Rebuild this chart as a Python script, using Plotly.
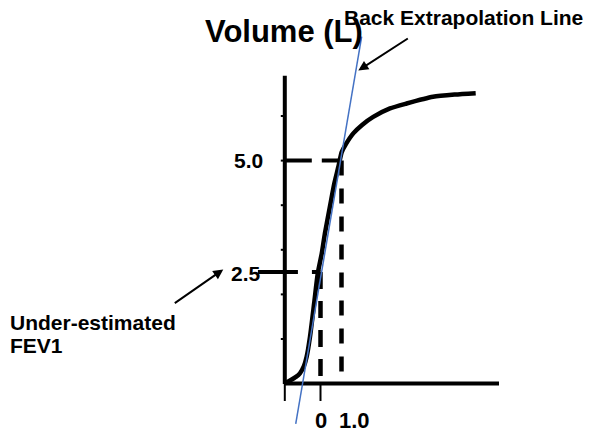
import plotly.graph_objects as go

# ---- data (time in s, volume in L) ----
time_s = [-1.69, -1.45, -1.17, -0.98, -0.79, -0.66, -0.50, -0.30, -0.13, 0.06,
          0.21, 0.45, 0.66, 0.85, 1.01, 1.21, 1.56, 1.98, 2.51, 3.31,
          4.10, 5.36, 6.40, 7.39]
volume_L = [0.01, 0.07, 0.15, 0.23, 0.39, 0.60, 1.05, 1.81, 2.47, 2.92,
            3.37, 3.97, 4.49, 4.86, 5.19, 5.37, 5.61, 5.80, 5.98, 6.17,
            6.28, 6.43, 6.48, 6.51]

back_x = [-1.18, 1.96]          # back-extrapolation line end points
back_y = [-0.906, 7.78]

volume_ticks = [1, 2, 3, 4, 5, 6]
volume_labels = {5.0: "5.0", 2.5: "2.5"}
time_ticks = [-1.70, 0.0]
time_labels = {0.0: "0", 1.0: "1.0"}

axis_time = [-1.70, 8.50]
axis_volume_top = 6.90
fev1_level = 5.0
under_level = 2.5

W, H = 593, 433
# axis ranges chosen so the plot area covers the full canvas
XR = [-15.262, 12.976]
YR = [-1.108, 8.601]

FONT = "Liberation Sans, Arial, sans-serif"

fig = go.Figure()

# dashed guide lines
fig.add_trace(go.Scatter(x=[axis_time[0], 1.0], y=[fev1_level, fev1_level], mode="lines",
                         line=dict(color="black", width=4, dash="27px,10px"), hoverinfo="skip"))
fig.add_trace(go.Scatter(x=[1.0, 1.0], y=[fev1_level, 0], mode="lines",
                         line=dict(color="black", width=4.5, dash="15px,13px"), hoverinfo="skip"))
fig.add_trace(go.Scatter(x=[-2.98, 0.0], y=[under_level, under_level], mode="lines",
                         line=dict(color="black", width=4, dash="40px,14px"), hoverinfo="skip"))
fig.add_trace(go.Scatter(x=[0.0, 0.0], y=[under_level, 0], mode="lines",
                         line=dict(color="black", width=4.5, dash="17px,12px"), hoverinfo="skip"))

# axes
fig.add_trace(go.Scatter(x=[axis_time[0], axis_time[0]], y=[axis_volume_top, -0.01], mode="lines",
                         line=dict(color="black", width=4), hoverinfo="skip"))
fig.add_trace(go.Scatter(x=[axis_time[0] - 0.02, axis_time[1]], y=[0, 0], mode="lines",
                         line=dict(color="black", width=4), hoverinfo="skip"))

# y ticks
tx, ty = [], []
for v in volume_ticks:
    tx += [axis_time[0], axis_time[0] - 0.19, None]
    ty += [v, v, None]
fig.add_trace(go.Scatter(x=tx, y=ty, mode="lines", line=dict(color="black", width=2), hoverinfo="skip"))
# x ticks
tx, ty = [], []
for t in time_ticks:
    tx += [t, t, None]
    ty += [0, -0.39, None]
fig.add_trace(go.Scatter(x=tx, y=ty, mode="lines", line=dict(color="black", width=2), hoverinfo="skip"))

# volume-time curve
fig.add_trace(go.Scatter(x=time_s, y=volume_L, mode="lines",
                         line=dict(color="black", width=4.5, shape="spline", smoothing=0.6),
                         hoverinfo="skip"))
# back extrapolation line
fig.add_trace(go.Scatter(x=back_x, y=back_y, mode="lines",
                         line=dict(color="#4472C4", width=1.5), hoverinfo="skip"))

def px(x):
    return x / W

def py(y):
    return 1 - y / H

ann = []
# tick labels
ann.append(dict(x=axis_time[0], y=5.0, xref="x", yref="y", text="<b>5.0</b>", showarrow=False,
                xanchor="right", yanchor="middle", xshift=-20, font=dict(size=21, color="black", family=FONT)))
ann.append(dict(x=axis_time[0], y=2.5, xref="x", yref="y", text="<b>2.5</b>", showarrow=False,
                xanchor="right", yanchor="middle", xshift=-22, yshift=-1, font=dict(size=21, color="black", family=FONT)))
ann.append(dict(x=0.0, y=py(420), xref="x", yref="paper", text="<b>0</b>", showarrow=False, borderpad=0,
                xanchor="center", yanchor="middle", font=dict(size=22, color="black", family=FONT)))
ann.append(dict(x=1.0, y=py(420), xref="x", yref="paper", text="<b>1.0</b>", showarrow=False, borderpad=0,
                xanchor="center", yanchor="middle", xshift=12.5, font=dict(size=22, color="black", family=FONT)))
# title
ann.append(dict(x=px(284), y=py(31.5), xref="paper", yref="paper", text="<b>Volume (L)</b>", showarrow=False,
                xanchor="center", yanchor="middle", font=dict(size=31, color="black", family=FONT)))
ann.append(dict(x=px(463), y=py(17.5), xref="paper", yref="paper", text="<b>Back Extrapolation Line</b>",
                showarrow=False, xanchor="center", yanchor="middle", font=dict(size=21, color="black", family=FONT)))
ann.append(dict(x=px(8), y=py(322.5), xref="paper", yref="paper", text="<b>Under-estimated</b>",
                showarrow=False, xanchor="left", yanchor="middle", font=dict(size=21, color="black", family=FONT)))
ann.append(dict(x=px(8), y=py(345.5), xref="paper", yref="paper", text="<b>FEV1</b>",
                showarrow=False, xanchor="left", yanchor="middle", font=dict(size=21, color="black", family=FONT)))
# arrows
ann.append(dict(x=1.80, y=7.02, ax=4.23, ay=7.76, xref="x", yref="y", axref="x", ayref="y",
                text="", showarrow=True, arrowhead=2, arrowsize=1, arrowwidth=2, arrowcolor="black"))
ann.append(dict(x=-4.63, y=2.56, ax=-7.01, ay=1.78, xref="x", yref="y", axref="x", ayref="y",
                text="", showarrow=True, arrowhead=2, arrowsize=1, arrowwidth=2, arrowcolor="black"))

fig.update_layout(
    width=W, height=H,
    margin=dict(l=0, r=0, t=0, b=0),
    paper_bgcolor="white", plot_bgcolor="white",
    showlegend=False,
    xaxis=dict(range=XR, visible=False, fixedrange=True),
    yaxis=dict(range=YR, visible=False, fixedrange=True),
    annotations=ann,
)

fig.write_html("out.html", config={"displayModeBar": False},
               post_script="document.body.style.margin='0';document.body.style.overflow='hidden';")
